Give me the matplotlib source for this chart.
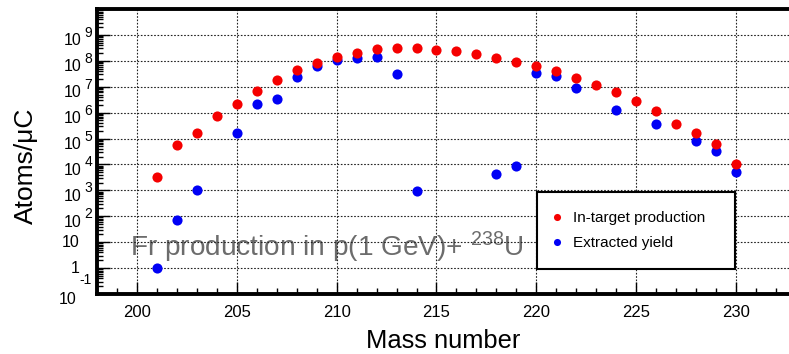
import numpy as np
import matplotlib
matplotlib.use("Agg")
import matplotlib.pyplot as plt
from matplotlib.ticker import MultipleLocator, LogLocator, NullFormatter
from matplotlib.transforms import blended_transform_factory, offset_copy

plt.rcParams["font.family"] = ["Liberation Sans", "DejaVu Sans"]
plt.rcParams["mathtext.fontset"] = "custom"
plt.rcParams["mathtext.rm"] = "Liberation Sans"

# in-target production (red)
mass_prod = np.arange(201, 231)
atoms_prod = [3.4e3, 5.6e4, 1.7e5, 7.6e5, 2.2e6, 7.1e6, 1.8e7, 4.5e7, 8.5e7, 1.45e8,
              2.0e8, 2.8e8, 3.1e8, 3.1e8, 2.7e8, 2.3e8, 1.8e8, 1.3e8, 8.7e7, 6.2e7,
              3.9e7, 2.2e7, 1.2e7, 6.2e6, 2.7e6, 1.15e6, 3.6e5, 1.6e5, 6.2e4, 1.0e4]

# extracted yield (blue)
mass_extr = [201, 202, 203, 205, 206, 207, 208, 209, 210, 211, 212, 213, 214,
             218, 219, 220, 221, 222, 224, 226, 228, 229, 230]
atoms_extr = [1.05, 71, 1.0e3, 1.6e5, 2.2e6, 3.5e6, 2.3e7, 6.3e7, 1.07e8, 1.23e8,
              1.35e8, 3.1e7, 9.1e2, 4.2e3, 8.9e3, 3.4e7, 2.5e7, 9.1e6, 1.3e6,
              3.5e5, 7.9e4, 3.4e4, 5.1e3]

y_exps = list(range(-1, 10))

fig = plt.figure(figsize=(7.89, 3.54), dpi=100)
ax = fig.add_axes([0.1229, 0.1695, 0.8771, 0.8051])

ax.set_yscale("log")
ax.set_xlim(198, 232.65)
ax.set_ylim(1e-1, 1e10)

hb, = ax.plot(mass_extr, atoms_extr, "o", color="#0000f5", markersize=7.3,
              markeredgewidth=0, linestyle="none", label="Extracted yield", zorder=3)
hr, = ax.plot(mass_prod, atoms_prod, "o", color="#f50000", markersize=7.3,
              markeredgewidth=0, linestyle="none", label="In-target production", zorder=4)

# axes look (ROOT style)
ax.spines["right"].set_visible(False)
for s in ("left", "bottom", "top"):
    ax.spines[s].set_linewidth(2.8)

ax.xaxis.set_major_locator(MultipleLocator(5))
ax.xaxis.set_minor_locator(MultipleLocator(1))
ax.yaxis.set_major_locator(LogLocator(base=10, numticks=20))
ax.yaxis.set_minor_locator(LogLocator(base=10, subs=np.arange(2, 10), numticks=20))
ax.yaxis.set_minor_formatter(NullFormatter())
ax.tick_params(which="both", direction="in", top=False, right=False, width=1)
ax.tick_params(which="major", length=9)
ax.tick_params(which="minor", length=4.5)
ax.tick_params(axis="x", labelsize=12, pad=8)
ax.tick_params(axis="y", labelleft=False)

ax.grid(True, which="major", color="#222222", linestyle=(0, (1.5, 1.5)), linewidth=0.8)

# y tick labels, drawn by hand so the exponent stays large
base_tr = blended_transform_factory(ax.transAxes, ax.transData)
for e in y_exps:
    v = 10.0 ** e
    if e == 0 or e == 1:
        ax.text(0, v, "1" if e == 0 else "10", ha="right", va="center", fontsize=11.5,
                transform=offset_copy(base_tr, fig, x=-17, y=0, units="dots"))
    else:
        dy = 14 if e < 0 else 2
        sup = ax.text(0, v, str(e), ha="right", va="center", fontsize=10,
                      transform=offset_copy(base_tr, fig, x=-5, y=dy, units="dots"))
        ax.annotate("10", xy=(0, 0.5), xycoords=sup, xytext=(-3, -8 - (dy - 2)),
                    textcoords="offset pixels", ha="right", va="center", fontsize=11.5)

ax.set_xlabel("Mass number", fontsize=18.4)
ax.xaxis.set_label_coords(0.5, -0.19)
ax.xaxis.label.set_verticalalignment("baseline")
ax.set_ylabel("Atoms/\u03bcC", fontsize=19)
ax.yaxis.set_label_coords(-0.1026, 0.449)
ax.yaxis.label.set_verticalalignment("center")

ax.text(0.0477, 0.133, "Fr production in p(1 GeV)+ $\\mathregular{^{238}}$U",
        transform=ax.transAxes, fontsize=20.2, color="#6c6c6c",
        va="baseline", ha="left", zorder=1)

leg = ax.legend(handles=[hr, hb], loc="lower left", mode="expand",
                bbox_to_anchor=(0.636, 0.0877, 0.286, 0.274), borderaxespad=0,
                prop={"size": 11}, fancybox=False, framealpha=1,
                edgecolor="black", markerscale=0.7, handlelength=0.1,
                handletextpad=1.03, borderpad=1.22, labelspacing=0.75)
leg.get_frame().set_linewidth(1.5)

fig.savefig("out.png", dpi=100)
